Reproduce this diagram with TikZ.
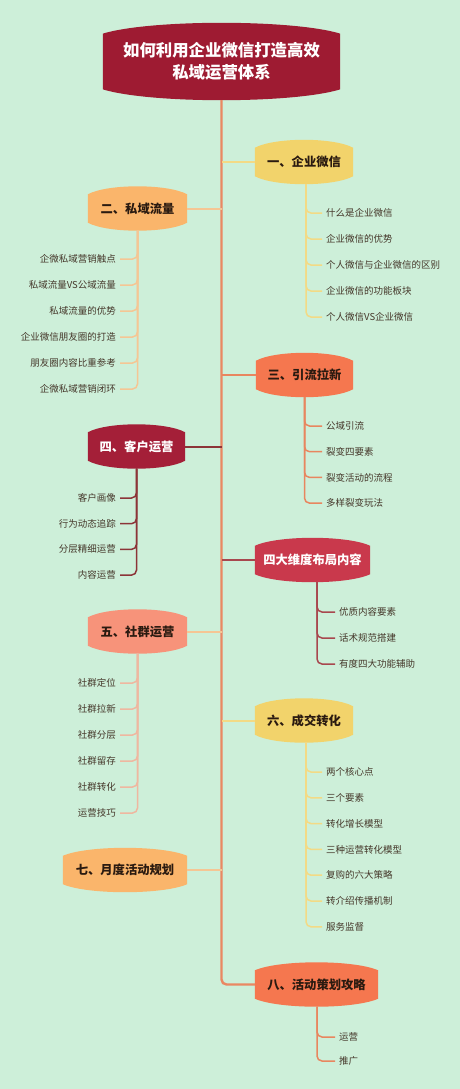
\documentclass[tikz,border=0pt]{standalone}
\usepackage{fontspec}
\setmainfont{Noto Sans CJK SC}
\usetikzlibrary{calc}
\pgfdeclarelayer{back}
\pgfdeclarelayer{bubbles}
\pgfsetlayers{back,bubbles,main}
\definecolor{bgc}{HTML}{CDEFD9}
\definecolor{titlec}{HTML}{9E1B32}
\definecolor{yelc}{HTML}{F2D36B}
\definecolor{yell}{HTML}{F3DA85}
\definecolor{orc}{HTML}{FAB56B}
\definecolor{orl}{HTML}{F5C694}
\definecolor{corc}{HTML}{F5774F}
\definecolor{corl}{HTML}{E8865F}
\definecolor{drc}{HTML}{A41F38}
\definecolor{drl}{HTML}{8C3438}
\definecolor{crc}{HTML}{C9394C}
\definecolor{crl}{HTML}{A8474E}
\definecolor{salc}{HTML}{F7937A}
\definecolor{sall}{HTML}{EFB7A0}
\definecolor{trunkc}{HTML}{EA8862}
\definecolor{labc}{HTML}{2A1A10}
\definecolor{subc}{HTML}{45372A}
\newcommand{\bubble}[3]{%
\begin{pgfonlayer}{bubbles}
\fill[#2] let \p1=(#1.north west), \p2=(#1.south east), \n1={#3*(\y1-\y2)}, \n2={0.2*(\x2-\x1)} in
  (\x1,\y1-\n1) .. controls (\x1+\n2,\y1+\n1/3) and (\x2-\n2,\y1+\n1/3) .. (\x2,\y1-\n1)
  -- (\x2,\y2+\n1) .. controls (\x2-\n2,\y2-\n1/3) and (\x1+\n2,\y2-\n1/3) .. (\x1,\y2+\n1) -- cycle;
\end{pgfonlayer}}
\tikzset{
  lab/.style={font=\bfseries\fontsize{12.3}{14}\selectfont, text=labc, minimum height=44pt, inner sep=0pt},
  child/.style={font=\fontsize{9.5}{11}\selectfont, text=subc, inner xsep=4pt, inner ysep=1pt},
  branch/.style={line width=2pt},
  sub/.style={line width=1.5pt, rounded corners=5pt},
  trunk/.style={line width=2.4pt, trunkc, rounded corners=5pt}
}
\begin{document}
\begin{tikzpicture}[x=1pt,y=-1pt]
\useasboundingbox (0,0) rectangle (460,1089);
\begin{pgfonlayer}{back}\fill[bgc] (0,0) rectangle (460,1089);\end{pgfonlayer}

% title
\node[font=\bfseries\fontsize{16.4}{22}\selectfont, text=white, minimum width=237pt, minimum height=77pt, inner sep=0pt, align=center] (title) at (221.5,61.5) {如何利用企业微信打造高效\\私域运营体系};
\bubble{title}{titlec}{0.14}

% main nodes
\node[lab, minimum width=98pt] (n1) at (304,162) {一、企业微信};
\bubble{n1}{yelc}{0.18}
\node[lab, minimum width=99pt] (n2) at (137.5,208.5) {二、私域流量};
\bubble{n2}{orc}{0.18}
\node[lab, minimum width=97pt] (n3) at (304.5,375) {三、引流拉新};
\bubble{n3}{corc}{0.18}
\node[lab, text=white, minimum width=97pt] (n4) at (136.5,446.5) {四、客户运营};
\bubble{n4}{drc}{0.18}
\node[lab, text=white, minimum width=115pt] (n45) at (312.5,560) {四大维度布局内容};
\bubble{n45}{crc}{0.18}
\node[lab, minimum width=99pt] (n5) at (137.5,631.5) {五、社群运营};
\bubble{n5}{salc}{0.18}
\node[lab, minimum width=98pt] (n6) at (304,720.5) {六、成交转化};
\bubble{n6}{yelc}{0.18}
\node[lab, minimum width=124pt] (n7) at (125,870) {七、月度活动规划};
\bubble{n7}{orc}{0.18}
\node[lab, minimum width=123pt] (n8) at (316.5,984.5) {八、活动策划攻略};
\bubble{n8}{corc}{0.18}

% trunk
\draw[trunk] (title.south) |- (n8.west);

% branches
\draw[branch, yell] (n1.west) -- (n1.west -| title.south);
\draw[branch, orl] (n2.east) -- (n2.east -| title.south);
\draw[branch, corl] (n3.west) -- (n3.west -| title.south);
\draw[branch, drl] (n4.east) -- (n4.east -| title.south);
\draw[branch, crl] (n45.west) -- (n45.west -| title.south);
\draw[branch, orl] (n5.east) -- (n5.east -| title.south);
\draw[branch, yell] (n6.west) -- (n6.west -| title.south);
\draw[branch, orl] (n7.east) -- (n7.east -| title.south);

% children of 1
\foreach \t [count=\i] in {什么是企业微信, 企业微信的优势, 个人微信与企业微信的区别, 企业微信的功能板块, 个人微信VS企业微信}{
  \node[child, anchor=west] (a\i) at (322,{213+26*(\i-1)}) {\t};
  \draw[sub, yell] ([xshift=2pt]n1.south) |- (a\i.west);
}
% children of 2
\foreach \t [count=\i] in {企微私域营销触点, 私域流量VS公域流量, 私域流量的优势, 企业微信朋友圈的打造, 朋友圈内容比重参考, 企微私域营销闭环}{
  \node[child, anchor=east] (b\i) at (120,{259+26*(\i-1)}) {\t};
  \draw[sub, orl] (n2.south) |- (b\i.east);
}
% children of 3
\foreach \t [count=\i] in {公域引流, 裂变四要素, 裂变活动的流程, 多样裂变玩法}{
  \node[child, anchor=west] (c\i) at (322,{426+25.7*(\i-1)}) {\t};
  \draw[sub, corl] (n3.south) |- (c\i.west);
}
% children of 4
\foreach \t [count=\i] in {客户画像, 行为动态追踪, 分层精细运营, 内容运营}{
  \node[child, anchor=east] (d\i) at (120,{498+25.7*(\i-1)}) {\t};
  \draw[sub, drl] (n4.south) |- (d\i.east);
}
% children of 4.5
\foreach \t [count=\i] in {优质内容要素, 话术规范搭建, 有度四大功能辅助}{
  \node[child, anchor=west] (e\i) at (335,{612+26*(\i-1)}) {\t};
  \draw[sub, crl] ([xshift=4.5pt]n45.south) |- (e\i.west);
}
% children of 5
\foreach \t [count=\i] in {社群定位, 社群拉新, 社群分层, 社群留存, 社群转化, 运营技巧}{
  \node[child, anchor=east] (f\i) at (120,{683+26*(\i-1)}) {\t};
  \draw[sub, sall] (n5.south) |- (f\i.east);
}
% children of 6
\foreach \t [count=\i] in {两个核心点, 三个要素, 转化增长模型, 三种运营转化模型, 复购的六大策略, 转介绍传播机制, 服务监督}{
  \node[child, anchor=west] (g\i) at (322,{772+25.8*(\i-1)}) {\t};
  \draw[sub, yell] ([xshift=2pt]n6.south) |- (g\i.west);
}
% children of 8
\foreach \t [count=\i] in {运营, 推广}{
  \node[child, anchor=west] (h\i) at (335,{1037+24*(\i-1)}) {\t};
  \draw[sub, corl] ([xshift=0.5pt]n8.south) |- (h\i.west);
}
\end{tikzpicture}
\end{document}
